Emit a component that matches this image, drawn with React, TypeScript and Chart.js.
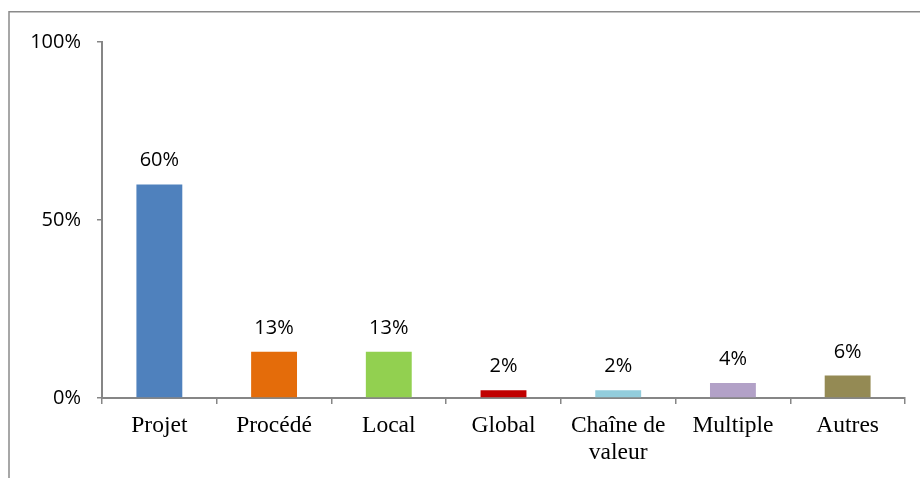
import React, { useEffect, useRef } from "react";
import { Chart, registerables } from "chart.js";

Chart.register(...registerables);

const categories: (string | string[])[] = [
  "Projet",
  "Procédé",
  "Local",
  "Global",
  ["Chaîne de", "valeur"],
  "Multiple",
  "Autres",
];
const values = [60, 13, 13, 2.2, 2.2, 4.2, 6.3];
const valueLabels = ["60%", "13%", "13%", "2%", "2%", "4%", "6%"];
const barColors = ["#4F81BD", "#E46C0A", "#92D050", "#C00000", "#92CDDC", "#B2A1C7", "#948A54"];
const yTickValues = [0, 50, 100];

const AXIS_GREY = "#868686";
const SANS = "'Open Sans', 'Liberation Sans', sans-serif";
const SERIF = "'Liberation Serif', 'Times New Roman', serif";

const framePlugin = {
  id: "frame",
  beforeDraw(chart: any) {
    const ctx = chart.ctx;
    ctx.save();
    ctx.strokeStyle = "#8a8a8a";
    ctx.lineWidth = 1.5;
    ctx.beginPath();
    ctx.moveTo(9, chart.height);
    ctx.lineTo(9, 11.75);
    ctx.lineTo(chart.width, 11.75);
    ctx.stroke();
    ctx.restore();
  },
};

const labelPlugin = {
  id: "valueLabels",
  afterDatasetsDraw(chart: any) {
    const ctx = chart.ctx;
    const meta = chart.getDatasetMeta(0);
    ctx.save();
    ctx.font = `20px ${SANS}`;
    ctx.fillStyle = "#000";
    ctx.textAlign = "center";
    ctx.textBaseline = "alphabetic";
    meta.data.forEach((bar: any, i: number) => {
      ctx.fillText(valueLabels[i], bar.x, bar.y - 18);
    });
    ctx.restore();
  },
};

export default function App() {
  const ref = useRef<HTMLCanvasElement>(null);
  useEffect(() => {
    if (!ref.current) return;
    const chart = new Chart(ref.current, {
      type: "bar",
      data: {
        labels: categories as any,
        datasets: [
          {
            data: values,
            backgroundColor: barColors,
            borderWidth: 0,
            barPercentage: 0.4,
            categoryPercentage: 1,
          },
        ],
      },
      options: {
        animation: false,
        responsive: true,
        maintainAspectRatio: false,
        layout: { padding: { top: 42, right: 15, left: 0, bottom: 0 } },
        plugins: {
          legend: { display: false },
          tooltip: { enabled: false },
        },
        scales: {
          x: {
            offset: true,
            afterFit: (s: any) => {
              s.height = 80;
            },
            grid: {
              display: true,
              offset: true,
              drawOnChartArea: false,
              drawTicks: true,
              tickLength: 6,
              color: AXIS_GREY,
              lineWidth: 1.5,
            },
            border: { display: true, color: AXIS_GREY, width: 2 },
            ticks: {
              color: "#000",
              font: { family: SERIF, size: 23.5, lineHeight: 1.17 },
              padding: 8,
              maxRotation: 0,
              autoSkip: false,
            },
          },
          y: {
            min: 0,
            max: 100,
            afterFit: (s: any) => {
              s.width = 102;
            },
            afterBuildTicks: (s: any) => {
              s.ticks = yTickValues.map((v) => ({ value: v }));
            },
            grid: {
              display: true,
              drawOnChartArea: false,
              drawTicks: true,
              tickLength: 5,
              color: AXIS_GREY,
              lineWidth: 1.5,
            },
            border: { display: true, color: AXIS_GREY, width: 2 },
            ticks: {
              color: "#000",
              font: { family: SANS, size: 20 },
              padding: 16,
              callback: (v: any) => `${v}%`,
            },
          },
        },
      },
      plugins: [framePlugin, labelPlugin],
    });
    return () => chart.destroy();
  }, []);
  return (
    <div style={{ position: "fixed", left: 0, top: 0, width: 920, height: 478, background: "#fff" }}>
      <canvas ref={ref} />
    </div>
  );
}
